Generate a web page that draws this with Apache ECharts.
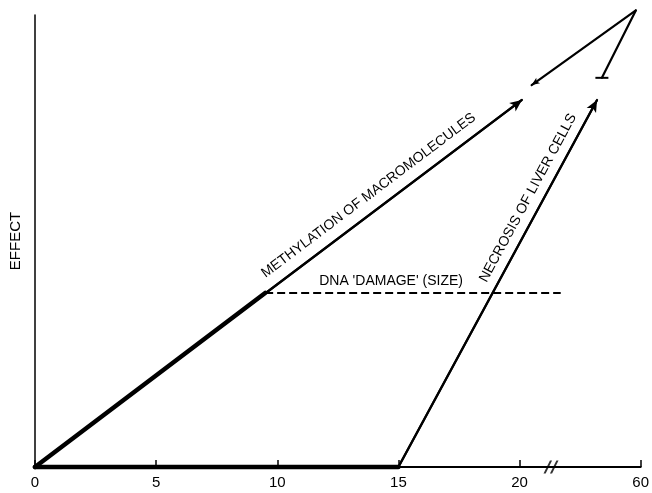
<!DOCTYPE html>
<html>
<head>
<meta charset="utf-8">
<script src="https://cdn.jsdelivr.net/npm/echarts@6/dist/echarts.min.js"></script>
<style>
  html, body { margin: 0; padding: 0; background: #fff; }
  #chart { width: 652px; height: 493px; }
</style>
</head>
<body>
<div id="chart"></div>
<script>
// Dose axis: 0–20 is linear, then a break squeezes 20–60 into one tick step.
const doseTicks = [0, 5, 10, 15, 20, 25];
const doseTickLabels = ['0', '5', '10', '15', '20', '60'];
const axisBreakAt = 21.3;

// Effect curves, [dose position, effect]
const methylationLow = [[0, 0], [20.1, 81.2]];
const methylationHigh = [[20.5, 84.5], [24.8, 101]];
const dnaDamageRise = [[0, 0], [9.5, 38.5]];
const dnaDamagePlateau = [[9.5, 38.5], [21.7, 38.5]];
const necrosisLow = [[0, 0], [15, 0], [23.2, 81.2]];
const necrosisHigh = [[23.4, 86.1], [24.8, 101]];

const FONT = '"Liberation Sans", Arial, Helvetica, sans-serif';
const INK = '#000';

const chart = echarts.init(document.getElementById('chart'), null, { renderer: 'canvas' });

function plain(name, data, width, extra) {
  return Object.assign({
    name: name,
    type: 'line',
    data: data,
    showSymbol: false,
    symbol: 'none',
    clip: false,
    silent: true,
    animation: false,
    lineStyle: { color: INK, width: width, cap: 'round' },
    itemStyle: { color: INK }
  }, extra || {});
}

function arrowSegment(a, b) {
  return {
    silent: true,
    animation: false,
    symbol: ['none', 'arrow'],
    symbolSize: [8, 12],
    label: { show: false },
    lineStyle: { color: INK, width: 2.2, type: 'solid' },
    itemStyle: { color: INK },
    emphasis: { disabled: true },
    data: [[{ coord: a }, { coord: b }]]
  };
}

const option = {
  backgroundColor: '#fff',
  animation: false,
  grid: { left: 34, right: 10, top: 15, bottom: 26 },
  xAxis: {
    type: 'value',
    min: 0,
    max: 25,
    interval: 5,
    splitLine: { show: false },
    axisLine: { show: true, onZero: false, lineStyle: { color: INK, width: 2 } },
    axisTick: { show: true, inside: true, length: 7, lineStyle: { color: INK, width: 1.5 } },
    axisLabel: {
      color: INK, fontFamily: FONT, fontSize: 15, margin: 8,
      formatter: function (v) {
        const i = doseTicks.indexOf(v);
        return i >= 0 ? doseTickLabels[i] : '';
      }
    }
  },
  yAxis: {
    type: 'value',
    min: 0,
    max: 100,
    name: 'EFFECT',
    nameLocation: 'middle',
    nameRotate: 90,
    nameGap: 12,
    nameTextStyle: { color: INK, fontFamily: FONT, fontSize: 15 },
    splitLine: { show: false },
    axisLine: { show: true, lineStyle: { color: INK, width: 1.5 } },
    axisTick: { show: false },
    axisLabel: { show: false }
  },
  series: [
    plain('Methylation', methylationLow, 2.2, {
      markLine: arrowSegment(methylationLow[0], methylationLow[1])
    }),
    plain('Methylation (beyond break)', methylationHigh, 2.2, {
      showSymbol: true,
      symbol: function (v, p) { return p.dataIndex === 0 ? 'arrow' : 'none'; },
      symbolSize: [5, 8],
      symbolRotate: 125
    }),
    plain('DNA damage', dnaDamageRise, 4.5),
    plain('DNA damage plateau', dnaDamagePlateau, 2, {
      lineStyle: { color: INK, width: 2, type: [8, 4] }
    }),
    plain('Necrosis baseline', necrosisLow.slice(0, 2), 4.5),
    plain('Necrosis', necrosisLow.slice(1), 2.2, {
      markLine: arrowSegment(necrosisLow[1], necrosisLow[2])
    }),
    plain('Necrosis (beyond break)', necrosisHigh, 2.2, {
      showSymbol: true,
      symbol: function (v, p) { return p.dataIndex === 0 ? 'rect' : 'none'; },
      symbolSize: [13, 2]
    }),
    {
      name: 'Axis break',
      type: 'scatter',
      silent: true,
      animation: false,
      clip: false,
      data: [[axisBreakAt, 0]],
      symbol: 'path://M0,14 L6,0 L8,0 L2,14 Z M6,14 L12,0 L14,0 L8,14 Z',
      symbolSize: [15, 13],
      itemStyle: { color: INK }
    }
  ]
};

chart.setOption(option);

// Curve captions set along their lines, rotated to the line's on-screen slope.
function captionAlong(text, p1, p2, t, offset) {
  const a = chart.convertToPixel({ gridIndex: 0 }, p1);
  const b = chart.convertToPixel({ gridIndex: 0 }, p2);
  const dx = b[0] - a[0], dy = b[1] - a[1];
  const len = Math.hypot(dx, dy);
  const nx = dy / len, ny = -dx / len; // normal pointing above the line
  const fx = a[0] + dx * t, fy = a[1] + dy * t;
  return {
    type: 'text',
    x: fx + nx * offset,
    y: fy + ny * offset,
    rotation: Math.atan2(-dy, dx),
    silent: true,
    style: {
      text: text,
      fill: INK,
      font: '14px ' + FONT,
      align: 'center',
      verticalAlign: 'middle'
    }
  };
}

chart.setOption({
  graphic: [
    captionAlong('METHYLATION OF MACROMOLECULES', methylationLow[0], methylationLow[1], 0.705, 16),
    captionAlong('NECROSIS OF LIVER CELLS', necrosisLow[1], necrosisLow[2], 0.715, 14),
    captionAlong("DNA 'DAMAGE' (SIZE)", dnaDamagePlateau[0], dnaDamagePlateau[1], 0.426, 12)
  ]
});
</script>
</body>
</html>
